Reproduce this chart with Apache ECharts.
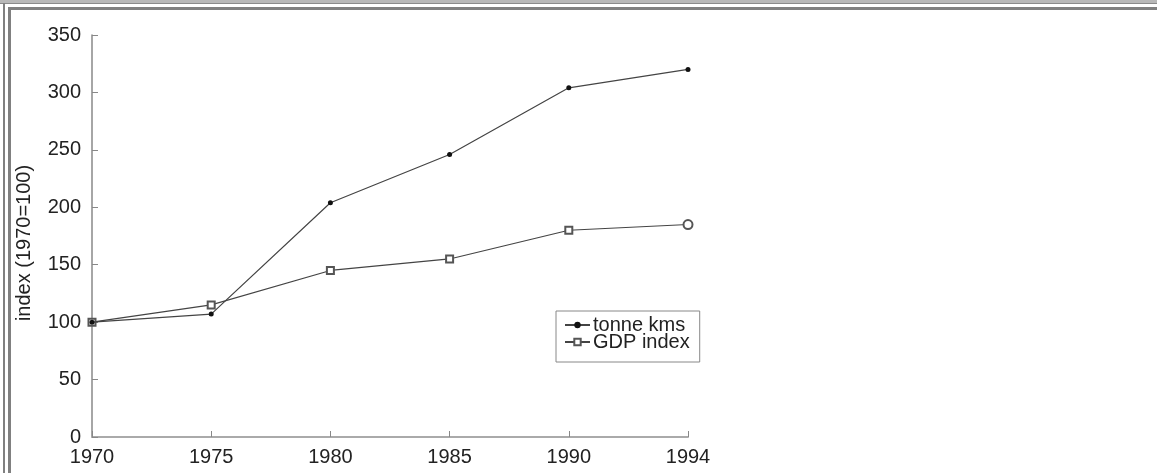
<!DOCTYPE html>
<html>
<head>
<meta charset="utf-8">
<script src="https://cdn.jsdelivr.net/npm/echarts@6/dist/echarts.min.js"></script>
<style>
html,body{margin:0;padding:0;background:#fff;}
#chart{width:1157px;height:473px;}
</style>
</head>
<body>
<div id="chart"></div>
<script>
var years = ['1970', '1975', '1980', '1985', '1990', '1994'];
var tonneKms = [100, 107, 204, 246, 304, 320];
var gdpIndex = [100, 115, 145, 155, 180, 185];
var yAxisTitle = 'index (1970=100)';
var seriesNames = ['tonne kms', 'GDP index'];

var chart = echarts.init(document.getElementById('chart'), null, {renderer: 'canvas'});
var font = 'Liberation Sans, Arial, Helvetica, sans-serif';

var gdpData = gdpIndex.map(function (v, i) {
  if (i === gdpIndex.length - 1) {
    return {value: v, symbol: 'emptyCircle', symbolSize: 9};
  }
  return v;
});

chart.setOption({
  animation: false,
  backgroundColor: '#ffffff',
  graphic: [
    {type: 'rect', shape: {x: 0, y: 0, width: 1157, height: 3}, style: {fill: '#b8b8b8'}, silent: true},
    {type: 'rect', shape: {x: 0, y: 3, width: 1157, height: 1}, style: {fill: '#8a8a8a'}, silent: true},
    {type: 'rect', shape: {x: 8, y: 7, width: 1149, height: 3}, style: {fill: '#808080'}, silent: true},
    {type: 'rect', shape: {x: 3, y: 3, width: 2, height: 470}, style: {fill: '#808080'}, silent: true},
    {type: 'rect', shape: {x: 8, y: 7, width: 3, height: 466}, style: {fill: '#808080'}, silent: true}
  ],
  grid: {left: 92, right: 469, top: 35, bottom: 36, containLabel: false, outerBoundsMode: 'none'},
  legend: {
    orient: 'vertical',
    left: 556,
    top: 311,
    data: seriesNames,
    borderColor: '#888',
    borderWidth: 1,
    padding: [4, 10, 10, 8],
    itemGap: -3,
    itemWidth: 25,
    itemHeight: 8,
    textStyle: {fontFamily: font, fontSize: 20, color: '#222', padding: [0, 0, 0, -2]}
  },
  xAxis: {
    type: 'category',
    data: years,
    boundaryGap: false,
    axisLine: {lineStyle: {color: '#aaaaaa', width: 2}},
    axisTick: {inside: true, length: 6, lineStyle: {color: '#888', width: 1}},
    axisLabel: {fontFamily: font, fontSize: 20, color: '#222', margin: 10},
    splitLine: {show: false}
  },
  yAxis: {
    type: 'value',
    min: 0,
    max: 350,
    interval: 50,
    name: yAxisTitle,
    nameLocation: 'middle',
    nameGap: 58,
    nameRotate: 90,
    nameTextStyle: {fontFamily: font, fontSize: 20, color: '#222', padding: [0, 0, 0, -14]},
    axisLine: {show: true, lineStyle: {color: '#888', width: 1.5}},
    axisTick: {show: true, inside: true, length: 6, lineStyle: {color: '#888', width: 1}},
    axisLabel: {fontFamily: font, fontSize: 20, color: '#222', margin: 11},
    splitLine: {show: false}
  },
  series: [
    {
      name: seriesNames[0],
      type: 'line',
      data: tonneKms,
      symbol: 'circle',
      symbolSize: 5,
      lineStyle: {color: '#444', width: 1.2},
      itemStyle: {color: '#111'},
      z: 3
    },
    {
      name: seriesNames[1],
      type: 'line',
      data: gdpData,
      symbol: 'emptyRect',
      symbolSize: 7,
      lineStyle: {color: '#444', width: 1.2},
      itemStyle: {color: '#555', borderWidth: 1},
      z: 2
    }
  ]
});
</script>
</body>
</html>
